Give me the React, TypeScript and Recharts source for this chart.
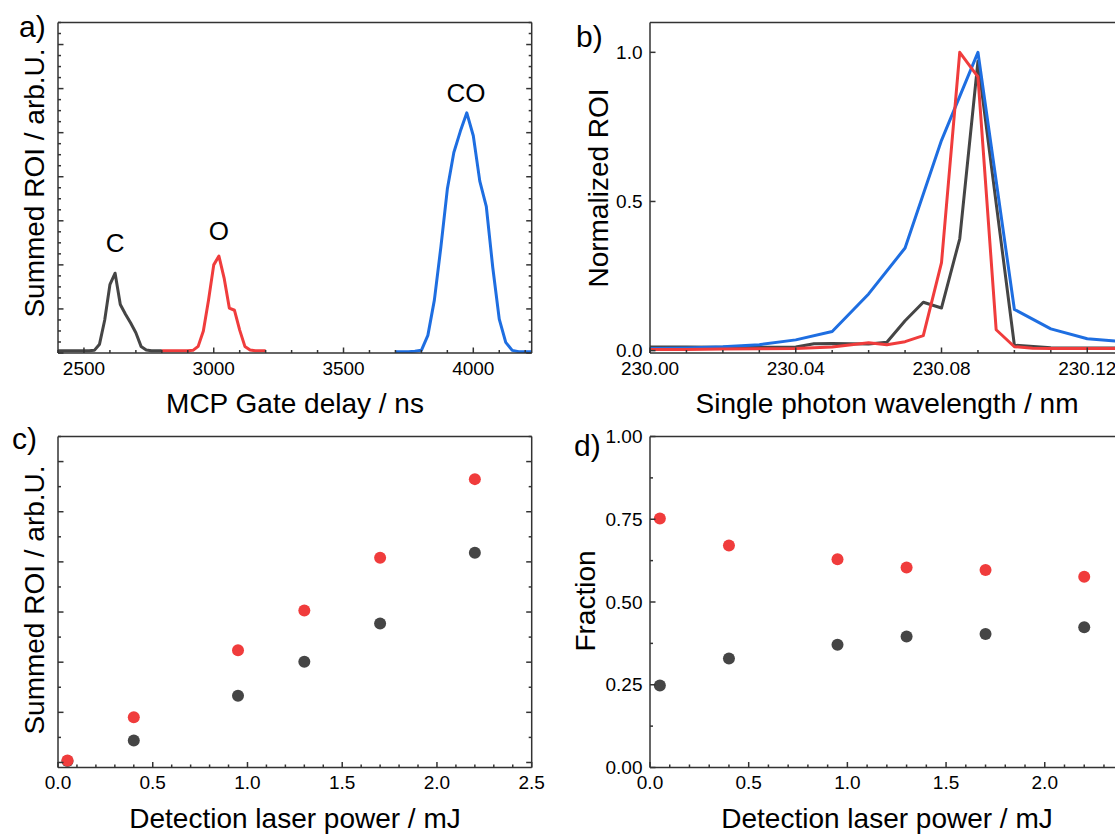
import React from 'react';
import { LineChart, Line, ScatterChart, Scatter, XAxis, YAxis, ReferenceDot } from 'recharts';

const FONT = '"Liberation Sans", Arial, Helvetica, sans-serif';
const FRAME = '#333333';
const TEXT = '#000000';
const C_COLOR = '#454545';
const O_COLOR = '#F03C3C';
const CO_COLOR = '#1E6EE1';

// ---------------- panel a) : summed ROI vs MCP gate delay ----------------
const cDelayNs = [2400, 2420, 2440, 2460, 2480, 2500, 2520, 2540, 2560, 2580, 2600, 2620, 2640, 2660, 2680, 2700, 2720, 2740, 2760, 2780, 2800];
const cSignal = [0.05, 0.05, 0.05, 0.05, 0.05, 0.05, 0.05, 0.06, 0.2, 0.75, 1.55, 1.81, 1.1, 0.88, 0.68, 0.46, 0.15, 0.07, 0.05, 0.05, 0.05];
const oDelayNs = [2800, 2820, 2840, 2860, 2880, 2900, 2920, 2940, 2960, 2980, 3000, 3020, 3040, 3060, 3080, 3100, 3120, 3140, 3160, 3180, 3200];
const oSignal = [0.05, 0.05, 0.05, 0.05, 0.05, 0.05, 0.06, 0.15, 0.5, 1.2, 2.0, 2.2, 1.7, 1.02, 0.97, 0.52, 0.15, 0.07, 0.05, 0.05, 0.05];
const coDelayNs = [3700, 3725, 3750, 3775, 3800, 3825, 3850, 3875, 3900, 3925, 3950, 3975, 4000, 4025, 4050, 4075, 4100, 4125, 4150, 4175, 4200, 4225];
const coSignal = [0.03, 0.03, 0.03, 0.04, 0.06, 0.4, 1.2, 2.4, 3.72, 4.55, 5.03, 5.45, 4.93, 3.9, 3.33, 1.94, 0.77, 0.24, 0.06, 0.03, 0.03, 0.03];
const peakNames = ['C', 'O', 'CO'];
const peakDelay = [2620, 3020, 3972];
const peakValue = [1.81, 2.2, 5.45];
const peakGap = [21, 16, 11];

// ---------------- panel b) : normalized ROI vs wavelength ----------------
const lambdaC = [230.0, 230.01, 230.02, 230.03, 230.04, 230.045, 230.05, 230.06, 230.065, 230.07, 230.075, 230.08, 230.085, 230.09, 230.1, 230.11, 230.12, 230.13];
const normC = [0.012, 0.012, 0.011, 0.011, 0.012, 0.023, 0.024, 0.022, 0.028, 0.1, 0.162, 0.143, 0.375, 0.97, 0.018, 0.01, 0.009, 0.009];
const lambdaO = [230.0, 230.01, 230.02, 230.03, 230.04, 230.05, 230.06, 230.065, 230.07, 230.075, 230.08, 230.085, 230.09, 230.095, 230.1, 230.105, 230.11, 230.12, 230.13];
const normO = [0.004, 0.004, 0.005, 0.006, 0.007, 0.012, 0.026, 0.02, 0.03, 0.05, 0.295, 1.0, 0.918, 0.07, 0.013, 0.008, 0.007, 0.007, 0.007];
const lambdaCO = [230.0, 230.01, 230.02, 230.03, 230.04, 230.05, 230.06, 230.07, 230.08, 230.09, 230.1, 230.11, 230.12, 230.13];
const normCO = [0.007, 0.009, 0.013, 0.02, 0.036, 0.064, 0.19, 0.344, 0.705, 1.0, 0.138, 0.073, 0.04, 0.03];

// ---------------- panels c) and d) : vs detection laser power ----------------
const powerMJ = [0.05, 0.4, 0.95, 1.3, 1.7, 2.2];
const cRoi = [0.03, 0.44, 1.33, 2.01, 2.77, 4.18];
const oRoi = [0.04, 0.9, 2.24, 3.03, 4.08, 5.65];
const cFraction = [0.248, 0.329, 0.371, 0.396, 0.403, 0.424];
const oFraction = [0.752, 0.671, 0.629, 0.604, 0.597, 0.576];

// ---------------- ticks ----------------
const steps = (from: number, to: number, step: number) => {
  const out: number[] = [];
  const n = Math.round((to - from) / step);
  for (let i = 0; i <= n; i++) out.push(Math.round((from + i * step) * 1e6) / 1e6);
  return out;
};
const delayTicks = steps(2400, 4200, 100);
const delayLabels = [2500, 3000, 3500, 4000];
const roiATicks = steps(0, 7.5, 0.25);
const roiAMajor = [0, 1, 2, 3, 4, 5, 6, 7];
const lambdaTicks = steps(230, 230.13, 0.01);
const lambdaLabels = [230.0, 230.04, 230.08, 230.12];
const normTicks = [0, 0.5, 1.0];
const powerTicksC = steps(0, 2.5, 0.1);
const powerLabelsC = [0, 0.5, 1.0, 1.5, 2.0, 2.5];
const roiCTicks = steps(0, 6.5, 0.5);
const roiCMajor = [0, 1, 2, 3, 4, 5, 6];
const powerTicksD = steps(0, 2.4, 0.1);
const powerLabelsD = [0, 0.5, 1.0, 1.5, 2.0];
const fracTicks = steps(0, 1, 0.125);
const fracLabels = [0, 0.25, 0.5, 0.75, 1.0];

// ---------------- tables built from the arrays ----------------
const byX = (a: any, b: any) => a.x - b.x;
const panelAData = [
  ...cDelayNs.map((x, i) => ({ x, c: cSignal[i] })),
  ...oDelayNs.map((x, i) => ({ x, o: oSignal[i] })),
  ...coDelayNs.map((x, i) => ({ x, co: coSignal[i] })),
].sort(byX);
const panelBData = [
  ...lambdaC.map((x, i) => ({ x, c: normC[i] })),
  ...lambdaO.map((x, i) => ({ x, o: normO[i] })),
  ...lambdaCO.map((x, i) => ({ x, co: normCO[i] })),
].sort(byX);
const roiC = powerMJ.map((x, i) => ({ x, y: cRoi[i] }));
const roiO = powerMJ.map((x, i) => ({ x, y: oRoi[i] }));
const fracC = powerMJ.map((x, i) => ({ x, y: cFraction[i] }));
const fracO = powerMJ.map((x, i) => ({ x, y: oFraction[i] }));

type Side = 'bottom' | 'top' | 'left' | 'right';
const near = (list: number[], v: number) => list.some((m) => Math.abs(m - v) < 1e-7);

function makeTick(side: Side, majors: number[], fmt?: (v: number) => string) {
  return (props: any) => {
    const { x, y, payload } = props;
    const v = Number(payload.value);
    const major = near(majors, v);
    const len = major ? 5.5 : 3;
    let x2 = x;
    let y2 = y;
    if (side === 'bottom') y2 = y - len;
    if (side === 'top') y2 = y + len;
    if (side === 'left') x2 = x + len;
    if (side === 'right') x2 = x - len;
    let label: any = null;
    if (major && fmt) {
      if (side === 'bottom')
        label = (
          <text x={x} y={y + 21.5} textAnchor="middle" fontSize={19} fontFamily={FONT} fill={TEXT}>
            {fmt(v)}
          </text>
        );
      if (side === 'left')
        label = (
          <text x={x - 7.5} y={y} dy="0.355em" textAnchor="end" fontSize={19} fontFamily={FONT} fill={TEXT}>
            {fmt(v)}
          </text>
        );
    }
    return (
      <g>
        <line x1={x} y1={y} x2={x2} y2={y2} stroke={FRAME} strokeWidth={1.5} />
        {label}
      </g>
    );
  };
}

type AxisSpec = {
  domain: [number, number];
  ticks: number[];
  majors: number[];
  fmt?: (v: number) => string;
  dataKey?: string;
};

function frameAxes(xs: AxisSpec, ys: AxisSpec, leftWidth: number, bottomHeight: number) {
  const common: any = {
    type: 'number',
    allowDataOverflow: true,
    interval: 0,
    tickSize: 0,
    tickMargin: 0,
    tickLine: false,
    axisLine: { stroke: FRAME, strokeWidth: 1.5 },
  };
  return [
    <XAxis key="xb" xAxisId={0} dataKey={xs.dataKey} orientation="bottom" height={bottomHeight} domain={xs.domain} ticks={xs.ticks} tick={makeTick('bottom', xs.majors, xs.fmt)} {...common} />,
    <XAxis key="xt" xAxisId="top" orientation="top" height={1} domain={xs.domain} ticks={xs.ticks} tick={makeTick('top', xs.majors)} {...common} />,
    <YAxis key="yl" yAxisId={0} dataKey={ys.dataKey} orientation="left" width={leftWidth} domain={ys.domain} ticks={ys.ticks} tick={makeTick('left', ys.majors, ys.fmt)} {...common} />,
    <YAxis key="yr" yAxisId="right" orientation="right" width={1} domain={ys.domain} ticks={ys.ticks} tick={makeTick('right', ys.majors)} {...common} />,
  ];
}

const dotShape = (color: string) => (p: any) => <circle cx={p.cx} cy={p.cy} r={6} fill={color} stroke="none" />;

const lineProps: any = {
  type: 'linear',
  dot: false,
  activeDot: false,
  isAnimationActive: false,
  connectNulls: true,
  strokeWidth: 3,
  strokeLinejoin: 'round',
};

const titleStyle: any = { fontSize: 28, fontFamily: FONT, fill: TEXT };
const letterStyle: any = { fontSize: 30, fontFamily: FONT, fill: TEXT };

export default function App() {
  return (
    <div
      style={{
        position: 'absolute',
        left: 0,
        top: 0,
        width: 1115,
        height: 834,
        overflow: 'hidden',
        background: '#ffffff',
        fontFamily: FONT,
      }}
    >
      {/* a) */}
      <div style={{ position: 'absolute', left: 0, top: 0 }}>
        <LineChart width={560} height={420} data={panelAData} margin={{ top: 21.5, right: 27.3, bottom: 0, left: 0 }}>
          {frameAxes(
            { domain: [2400, 4225], ticks: delayTicks, majors: delayLabels, fmt: (v) => String(v), dataKey: 'x' },
            { domain: [0, 7.5], ticks: roiATicks, majors: roiAMajor },
            58,
            67
          )}
          <Line {...lineProps} dataKey="c" stroke={C_COLOR} />
          <Line {...lineProps} dataKey="o" stroke={O_COLOR} />
          <Line {...lineProps} dataKey="co" stroke={CO_COLOR} />
          {peakNames.map((name, i) => (
            <ReferenceDot
              key={name}
              x={peakDelay[i]}
              y={peakValue[i]}
              r={0}
              fill="none"
              stroke="none"
              label={{ value: name, position: 'top', offset: peakGap[i], fontSize: 26, fill: TEXT, fontFamily: FONT }}
            />
          ))}
        </LineChart>
      </div>

      {/* b) */}
      <div style={{ position: 'absolute', left: 560, top: 0 }}>
        <LineChart width={600} height={420} data={panelBData} margin={{ top: 21.5, right: 35.3, bottom: 0, left: 0 }}>
          {frameAxes(
            { domain: [230.0, 230.13], ticks: lambdaTicks, majors: lambdaLabels, fmt: (v) => v.toFixed(2), dataKey: 'x' },
            { domain: [-0.008, 1.1], ticks: normTicks, majors: normTicks, fmt: (v) => v.toFixed(1) },
            90,
            67
          )}
          <Line {...lineProps} dataKey="c" stroke={C_COLOR} />
          <Line {...lineProps} dataKey="co" stroke={CO_COLOR} />
          <Line {...lineProps} dataKey="o" stroke={O_COLOR} />
        </LineChart>
      </div>

      {/* c) */}
      <div style={{ position: 'absolute', left: 0, top: 420 }}>
        <ScatterChart width={560} height={414} margin={{ top: 15.5, right: 27.3, bottom: 0, left: 0 }}>
          {frameAxes(
            { domain: [0, 2.5], ticks: powerTicksC, majors: powerLabelsC, fmt: (v) => v.toFixed(1), dataKey: 'x' },
            { domain: [-0.1, 6.5], ticks: roiCTicks, majors: roiCMajor, dataKey: 'y' },
            58,
            66.5
          )}
          <Scatter data={roiC} isAnimationActive={false} shape={dotShape(C_COLOR)} />
          <Scatter data={roiO} isAnimationActive={false} shape={dotShape(O_COLOR)} />
        </ScatterChart>
      </div>

      {/* d) */}
      <div style={{ position: 'absolute', left: 560, top: 420 }}>
        <ScatterChart width={600} height={414} margin={{ top: 15.5, right: 35.3, bottom: 0, left: 0 }}>
          {frameAxes(
            { domain: [0, 2.4], ticks: powerTicksD, majors: powerLabelsD, fmt: (v) => v.toFixed(1), dataKey: 'x' },
            { domain: [0, 1], ticks: fracTicks, majors: fracLabels, fmt: (v) => v.toFixed(2), dataKey: 'y' },
            90,
            66.5
          )}
          <Scatter data={fracC} isAnimationActive={false} shape={dotShape(C_COLOR)} />
          <Scatter data={fracO} isAnimationActive={false} shape={dotShape(O_COLOR)} />
        </ScatterChart>
      </div>

      {/* panel letters and axis titles */}
      <svg
        width={1115}
        height={834}
        style={{ position: 'absolute', left: 0, top: 0, pointerEvents: 'none' }}
      >
        <text x={19} y={37} {...letterStyle}>a)</text>
        <text x={576} y={47} {...letterStyle}>b)</text>
        <text x={12} y={449} {...letterStyle}>c)</text>
        <text x={574} y={455.5} {...letterStyle}>d)</text>

        <text x={295} y={413} textAnchor="middle" {...titleStyle}>MCP Gate delay / ns</text>
        <text x={887} y={413} textAnchor="middle" {...titleStyle}>Single photon wavelength / nm</text>
        <text x={295} y={828} textAnchor="middle" {...titleStyle}>Detection laser power / mJ</text>
        <text x={887} y={828} textAnchor="middle" {...titleStyle}>Detection laser power / mJ</text>

        <text transform="translate(34,183) rotate(-90)" textAnchor="middle" dy="0.35em" {...titleStyle}>Summed ROI / arb.U.</text>
        <text transform="translate(598,188) rotate(-90)" textAnchor="middle" dy="0.35em" {...titleStyle}>Normalized ROI</text>
        <text transform="translate(34,600) rotate(-90)" textAnchor="middle" dy="0.35em" {...titleStyle}>Summed ROI / arb.U.</text>
        <text transform="translate(585,601) rotate(-90)" textAnchor="middle" dy="0.35em" {...titleStyle}>Fraction</text>
      </svg>
    </div>
  );
}
